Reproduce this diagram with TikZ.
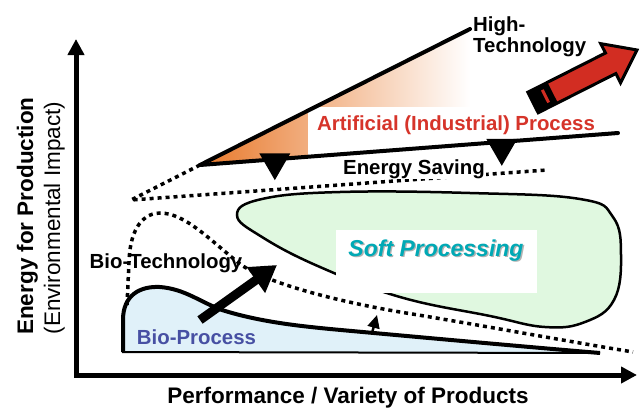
\documentclass[tikz,border=0pt]{standalone}
\usepackage{fontspec}
\setmainfont{Liberation Sans}
\usepackage{tikz}
\usetikzlibrary{arrows.meta,calc,positioning}
\definecolor{hiorange}{HTML}{E8782A}
\definecolor{hipink}{HTML}{F5BFB5}
\definecolor{artred}{HTML}{D6342A}
\definecolor{arrowred}{HTML}{D22D22}
\definecolor{softgreen}{HTML}{E0F8E0}
\definecolor{softteal}{HTML}{00A9B5}
\definecolor{biofill}{HTML}{E0F1F9}
\definecolor{biotext}{HTML}{4750A3}
\newcommand{\softshadow}[1]{\leavevmode\rlap{\kern1.3pt\raisebox{-1.3pt}{\textcolor{black!30}{#1}}}#1}
\tikzset{%
	axis/.style     = {line width=5pt, >={Triangle[length=16pt,width=16pt]}, <->}, % axes
	trend/.style    = {line width=4pt, line cap=round},
	dashline/.style = {line width=3.5pt, dash pattern=on 4pt off 4pt}, % dotted limits
	saving/.style   = {line width=4pt, -{Triangle[length=27pt,width=30pt]}},
	lbl/.style      = {inner sep=0pt, font=\fontsize{20.4}{20.5}\selectfont\bfseries},
	axislbl/.style  = {inner sep=0pt, rotate=90, font=\fontsize{22.5}{24}\selectfont},
}

\begin{document}
\begin{tikzpicture}[x=1pt, y=-1pt]
	\useasboundingbox (0,0) rectangle (643,413);
	\coordinate (ytop) at (76,39);
	\coordinate (xend) at (637,375);
	\coordinate (apex) at (200,165);
	\coordinate (hi) at (470,29);
	\coordinate (art) at (618,133);
	\coordinate (left) at (131,200);
	\coordinate (sav) at (547,170);
	\coordinate (bt0) at (200,320);
	\coordinate (bt1) at (277,265);
	\coordinate (up0) at (372,333);
	\coordinate (up1) at (377,315);
	
	% high-technology wedge
	\shade[left color=hiorange, middle color=hipink, right color=white] (apex) -- (hi) -- ($(apex)!0.646!(art)$) -- cycle;
	\node[lbl, text=artred, fill=white, minimum width=296pt, text height=23pt, text depth=28pt, anchor=base] (ai) at (456,130) {Artificial (Industrial) Process};
	\draw[trend] (apex) -- (hi);
	\draw[trend] (apex) -- (art);
	\draw[saving] ($(apex)!0.179!(art)$) -- ++(0,21);
	\draw[saving] ($(apex)!0.722!(art)$) -- ++(0,24);
	\draw[dashline] (apex) -- (left) -- (sav);
	
	% soft processing
	\draw[line width=2.5pt, fill=softgreen] plot[smooth cycle, tension=0.7] coordinates {(237,215) (262,199) (340,192) (470,193) (580,199) (613,217) (621,255) (614,300) (585,322) (545,327) (490,316) (400,297) (320,267) (262,237)};
	\node[fill=white, inner sep=0pt, minimum width=201pt, text height=26pt, text depth=37pt, anchor=base, text=softteal, font=\fontsize{23}{24}\selectfont\bfseries\itshape] (soft) at (436,256) {\softshadow{Soft Processing}};
	
	% bio-process
	\draw[line width=2pt, fill=biofill] (123,352) -- (123,320) .. controls (123,295) and (140,286) .. (160,287) .. controls (185,289) and (200,302) .. (222,310) .. controls (260,322) and (300,326) .. (330,329) .. controls (450,340) and (540,348) .. (600,353) -- cycle;
	\draw[line width=4pt] (123,352) -- (123,320) .. controls (123,295) and (140,286) .. (160,287) .. controls (185,289) and (200,302) .. (222,310) .. controls (260,322) and (300,326) .. (330,329) .. controls (450,340) and (540,348) .. (600,353);
	\draw[dashline] (127,305) -- (129,262) .. controls (130,226) and (145,213) .. (160,213) .. controls (185,213) and (210,240) .. (240,264) .. controls (265,282) and (330,300) .. (400,312) .. controls (480,325) and (560,340) .. (633,352);
	\draw[line width=9pt, -{Triangle[length=26pt,width=30pt]}] (bt0) -- (bt1);
	\draw[line width=2.5pt, -{Triangle[length=13pt,width=12pt]}] (up0) -- (up1);
	
	% red arrow
	\begin{scope}[shift={(533,102.5)}, rotate=26.8]
		\draw[line width=3pt, line join=miter, fill=arrowred] (0,-11.5) -- (87,-11.5) -- (87,-22) -- (116.5,0) -- (87,22) -- (87,11.5) -- (0,11.5) -- cycle;
		\fill (0,-11.5) rectangle (22,11.5);
		\draw[arrowred, line width=3pt] (14,-7) -- (14,7);
	\end{scope}
	
	\draw[axis] (ytop) |- (xend);
	
	\node[lbl, anchor=north west, align=left] (ht) at (473,17) {High-\\Technology};
	\node[lbl, fill=white, inner sep=1pt, anchor=base] (es) at (414,174) {Energy Saving};
	\node[lbl, anchor=base] (btl) at (166,268) {Bio-Technology};
	\node[lbl, text=biotext, anchor=base] (bp) at (196.5,344) {Bio-Process};
	\node[lbl, font=\fontsize{22.5}{24}\selectfont\bfseries, anchor=base] (xl) at (348,403) {Performance / Variety of Products};
	\node[axislbl, font=\fontsize{22.5}{24}\selectfont\bfseries, anchor=base] (yl) at (33,216) {Energy for Production};
	\node[axislbl, anchor=base] (yl2) at (60,218) {(Environmental Impact)};
\end{tikzpicture}
\end{document}
